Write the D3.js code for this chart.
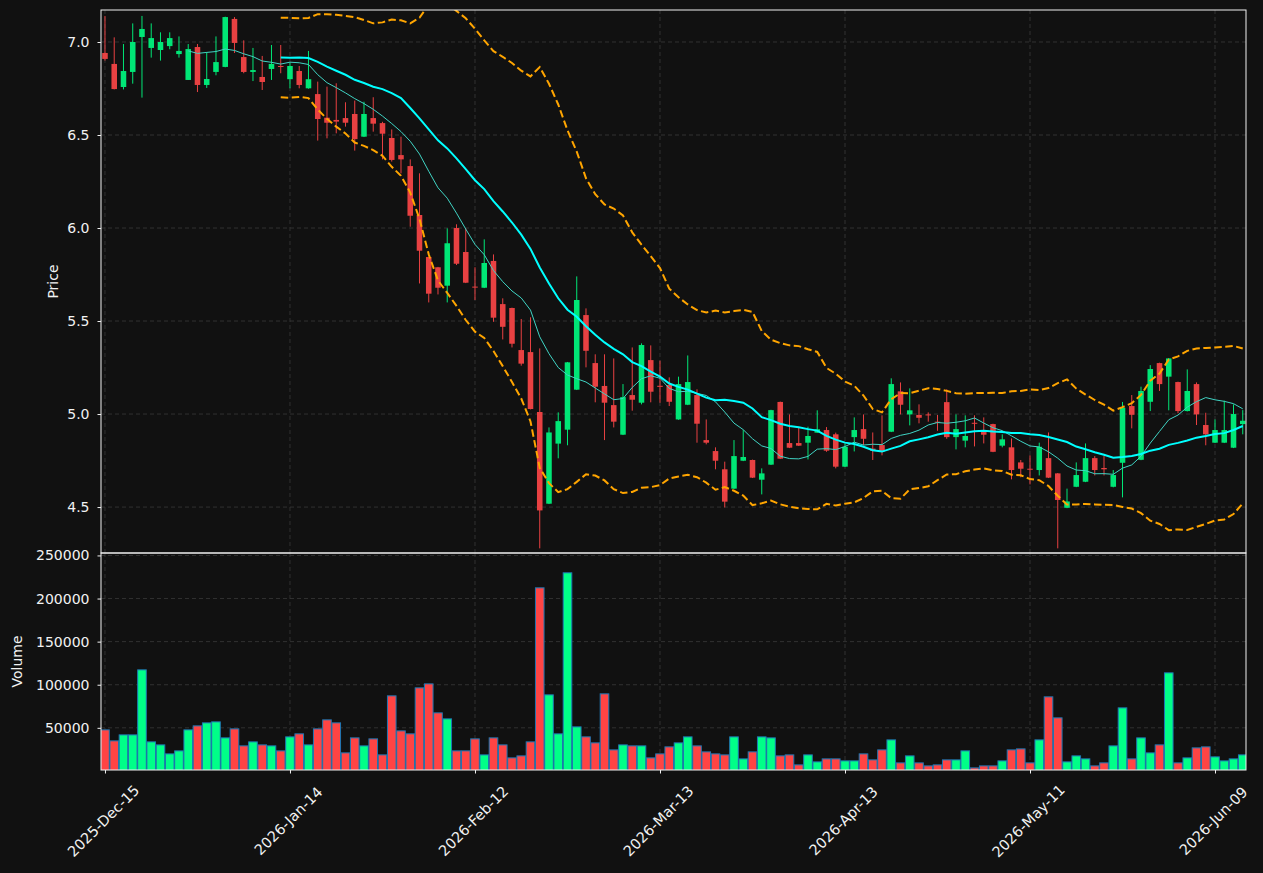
<!DOCTYPE html>
<html>
<head>
<meta charset="utf-8">
<script src="https://cdn.jsdelivr.net/npm/d3@7"></script>
<style>
  body { margin: 0; background: #111111; }
  text { font-family: "DejaVu Sans", sans-serif; }
</style>
</head>
<body>
<div id="chart"></div>
<script>
// tick labels on the date axis (every 20 sessions)
const tickIdx = [0, 20, 40, 60, 80, 100, 120];
const tickLabels = ["2025-Dec-15", "2026-Jan-14", "2026-Feb-12", "2026-Mar-13", "2026-Apr-13", "2026-May-11", "2026-Jun-09"];

// OHLC, one value per session
const opens = [
  6.941, 6.882, 6.758, 6.839, 7.027, 6.968, 6.957, 6.978, 6.935, 6.796,
  6.973, 6.769, 6.839, 6.866, 7.124, 6.919, 6.839, 6.812, 6.855, 6.871,
  6.800, 6.844, 6.751, 6.720, 6.593, 6.581, 6.591, 6.613, 6.491, 6.591,
  6.564, 6.484, 6.392, 6.333, 6.070, 5.844, 5.789, 5.690, 6.000, 5.871,
  5.685, 5.679, 5.823, 5.591, 5.570, 5.344, 5.333, 5.011, 4.518, 4.841,
  4.916, 5.131, 5.532, 5.274, 5.151, 5.048, 4.889, 5.102, 5.061, 5.290,
  5.152, 5.156, 4.971, 5.050, 5.102, 4.860, 4.801, 4.703, 4.599, 4.749,
  4.753, 4.647, 4.728, 5.065, 4.844, 4.844, 4.846, 4.900, 4.914, 4.891,
  4.717, 4.876, 4.919, 4.814, 4.833, 4.905, 5.122, 4.998, 4.995, 4.998,
  4.959, 5.064, 4.876, 4.857, 4.953, 4.903, 4.946, 4.830, 4.821, 4.740,
  4.706, 4.699, 4.763, 4.681, 4.496, 4.609, 4.636, 4.763, 4.710, 4.609,
  4.738, 5.043, 4.754, 5.066, 5.274, 5.201, 5.172, 5.016, 5.161, 4.941,
  4.846, 4.846, 4.819, 4.946
];
const highs = [
  7.140, 7.025, 6.989, 7.100, 7.140, 7.100, 7.052, 7.052, 7.030, 6.989,
  6.989, 6.946, 7.030, 7.136, 7.134, 7.009, 6.968, 6.925, 6.984, 6.984,
  6.889, 6.871, 6.952, 6.787, 6.760, 6.778, 6.676, 6.685, 6.679, 6.703,
  6.571, 6.530, 6.491, 6.369, 6.294, 5.846, 5.791, 5.998, 6.020, 5.998,
  5.789, 5.939, 5.858, 5.622, 5.572, 5.511, 5.520, 5.353, 4.928, 5.009,
  5.280, 5.740, 5.568, 5.321, 5.321, 5.299, 5.161, 5.358, 5.380, 5.369,
  5.287, 5.197, 5.201, 5.315, 5.133, 4.971, 4.821, 4.744, 4.860, 4.914,
  4.755, 4.708, 5.023, 5.067, 4.998, 4.927, 4.932, 5.020, 4.930, 4.900,
  4.842, 4.982, 4.998, 4.901, 4.993, 5.192, 5.170, 5.138, 5.052, 5.009,
  4.995, 5.133, 4.998, 4.993, 4.993, 4.982, 4.948, 4.891, 4.869, 4.753,
  4.778, 4.846, 4.901, 4.683, 4.599, 4.740, 4.842, 4.774, 4.774, 4.699,
  5.065, 5.102, 5.147, 5.263, 5.276, 5.301, 5.174, 5.240, 5.170, 5.007,
  4.971, 5.072, 5.052, 5.021
];
const lows = [
  6.900, 6.745, 6.745, 6.776, 6.701, 6.916, 6.900, 6.961, 6.916, 6.796,
  6.731, 6.753, 6.821, 6.864, 6.941, 6.832, 6.790, 6.742, 6.796, 6.832,
  6.751, 6.751, 6.749, 6.470, 6.482, 6.509, 6.545, 6.416, 6.489, 6.518,
  6.369, 6.357, 6.294, 6.007, 5.702, 5.600, 5.643, 5.600, 5.801, 5.704,
  5.613, 5.677, 5.496, 5.401, 5.358, 5.260, 5.025, 4.278, 4.516, 4.762,
  4.832, 5.129, 5.251, 5.063, 4.860, 4.928, 4.887, 5.018, 5.052, 5.063,
  5.061, 5.043, 4.969, 5.048, 4.846, 4.837, 4.703, 4.498, 4.597, 4.747,
  4.656, 4.568, 4.726, 4.758, 4.817, 4.828, 4.756, 4.898, 4.797, 4.708,
  4.715, 4.799, 4.833, 4.753, 4.778, 4.903, 4.998, 4.939, 4.950, 4.959,
  4.910, 4.867, 4.810, 4.821, 4.826, 4.842, 4.795, 4.821, 4.649, 4.660,
  4.622, 4.670, 4.656, 4.278, 4.494, 4.607, 4.634, 4.670, 4.670, 4.606,
  4.552, 4.923, 4.752, 5.016, 5.124, 5.020, 5.004, 5.014, 4.941, 4.832,
  4.844, 4.844, 4.817, 4.891
];
const closes = [
  6.909, 6.747, 6.844, 7.000, 7.070, 7.021, 7.000, 7.021, 6.952, 6.962,
  6.769, 6.801, 6.892, 7.134, 6.995, 6.839, 6.849, 6.785, 6.882, 6.867,
  6.871, 6.769, 6.800, 6.586, 6.566, 6.572, 6.566, 6.478, 6.613, 6.561,
  6.507, 6.366, 6.369, 6.066, 5.878, 5.647, 5.679, 5.918, 5.808, 5.706,
  5.681, 5.812, 5.518, 5.469, 5.378, 5.271, 5.027, 4.482, 4.901, 4.962,
  5.278, 5.613, 5.340, 5.147, 5.061, 4.959, 5.091, 5.077, 5.371, 5.120,
  5.146, 5.066, 5.161, 5.172, 4.948, 4.846, 4.749, 4.529, 4.774, 4.769,
  4.658, 4.681, 5.021, 4.760, 4.819, 4.830, 4.882, 4.918, 4.803, 4.717,
  4.824, 4.914, 4.867, 4.803, 4.799, 5.161, 5.050, 5.020, 4.980, 4.995,
  4.955, 4.876, 4.919, 4.882, 4.950, 4.889, 4.797, 4.864, 4.699, 4.706,
  4.702, 4.824, 4.658, 4.538, 4.530, 4.672, 4.763, 4.699, 4.703, 4.672,
  5.034, 4.996, 5.124, 5.242, 5.161, 5.299, 5.016, 5.124, 4.998, 4.891,
  4.914, 4.914, 5.000, 4.964
];
const volumes = [
  47620, 34850, 41800, 41800, 117260, 33700, 30200, 19760, 23250, 47620,
  52260, 55750, 56900, 38340, 48780, 29050, 33700, 30200, 29050, 23250,
  39500, 43000, 30200, 48780, 59230, 55750, 20920, 38340, 29050, 37170,
  18600, 87090, 46460, 43000, 96370, 101000, 67350, 60390, 23250, 23250,
  37170, 18600, 38340, 30200, 15120, 17440, 33700, 212440, 88250, 43000,
  229850, 51100, 39500, 32530, 89410, 24400, 30200, 29050, 29050, 15120,
  19760, 27890, 32530, 39500, 29050, 22090, 19760, 18600, 39500, 13960,
  22090, 39500, 38340, 17440, 18600, 7000, 18600, 10480, 13960, 13960,
  11640, 11640, 19760, 12800, 24400, 36010, 9320, 17440, 9320, 5840,
  7000, 12800, 12800, 23250, 3520, 5840, 5840, 11640, 24400, 25570,
  9320, 36010, 85930, 61560, 10480, 17440, 13960, 5840, 9320, 29050,
  73160, 13960, 38340, 20920, 30200, 113780, 9320, 15120, 26730, 27890,
  16280, 11640, 13960, 18600
];

// Dimensions:
const width = 1263, height = 873;
const left = 101, right = 1246;
const priceTop = 10, priceBottom = 553;
const volTop = 553, volBottom = 770;
const fg = "#f2f2f2";
const upCol = "#00e676", downCol = "#e84142";
const upVol = "#00ff88", downVol = "#ff4444";

const n = closes.length;
const idx = d3.range(n);

// rolling mean / std over the closes
function rolling(arr, w, fn) {
  return arr.map((_, i) => i < w - 1 ? null : fn(arr.slice(i - w + 1, i + 1)));
}
const ma10 = rolling(closes, 10, d3.mean);
const ma20 = rolling(closes, 20, d3.mean);
const sd20 = rolling(closes, 20, d3.deviation);
const bbUp = ma20.map((m, i) => m == null ? null : m + 2 * sd20[i]);
const bbLo = ma20.map((m, i) => m == null ? null : m - 2 * sd20[i]);

const svg = d3.select("#chart")
  .append("svg")
  .attr("width", width)
  .attr("height", height)
  .style("background", "#111111");

// Scales:
const x = d3.scaleLinear().domain([-0.43, 123.35]).range([left, right]);
const step = x(1) - x(0);
const yPrice = d3.scaleLinear().domain([4.253, 7.172]).range([priceBottom, priceTop]);
const yVol = d3.scaleLinear()
  .domain([0.3 * d3.min(volumes), 1.1 * d3.max(volumes)])
  .range([volBottom, volTop]);

const priceTicks = [4.5, 5.0, 5.5, 6.0, 6.5, 7.0];
const volTicks = [50000, 100000, 150000, 200000, 250000];

svg.append("clipPath").attr("id", "clipPrice")
  .append("rect").attr("x", left).attr("y", priceTop)
  .attr("width", right - left).attr("height", priceBottom - priceTop);
svg.append("clipPath").attr("id", "clipVol")
  .append("rect").attr("x", left).attr("y", volTop)
  .attr("width", right - left).attr("height", volBottom - volTop);

// grid
const grid = svg.append("g")
  .attr("stroke", "#3a3a3a")
  .attr("stroke-width", 0.8)
  .attr("stroke-dasharray", "4,3");
grid.selectAll(null).data(priceTicks).enter().append("line")
  .attr("x1", left).attr("x2", right)
  .attr("y1", d => yPrice(d)).attr("y2", d => yPrice(d));
grid.selectAll(null).data(volTicks).enter().append("line")
  .attr("x1", left).attr("x2", right)
  .attr("y1", d => yVol(d)).attr("y2", d => yVol(d));
grid.selectAll(null).data(tickIdx).enter().append("line")
  .attr("x1", d => x(d)).attr("x2", d => x(d))
  .attr("y1", priceTop).attr("y2", priceBottom);
grid.selectAll(null).data(tickIdx).enter().append("line")
  .attr("x1", d => x(d)).attr("x2", d => x(d))
  .attr("y1", volTop).attr("y2", volBottom);

// candles
const candles = svg.append("g").attr("clip-path", "url(#clipPrice)");
const cw = step * 0.6;
candles.selectAll(null).data(idx).enter().append("line")
  .attr("x1", i => x(i)).attr("x2", i => x(i))
  .attr("y1", i => yPrice(highs[i])).attr("y2", i => yPrice(lows[i]))
  .attr("stroke", i => closes[i] >= opens[i] ? upCol : downCol)
  .attr("stroke-width", 1);
candles.selectAll(null).data(idx).enter().append("rect")
  .attr("x", i => x(i) - cw / 2)
  .attr("width", cw)
  .attr("y", i => yPrice(Math.max(opens[i], closes[i])))
  .attr("height", i => Math.max(1, Math.abs(yPrice(opens[i]) - yPrice(closes[i]))))
  .attr("fill", i => closes[i] >= opens[i] ? upCol : downCol);

// moving averages and bands
const line = d3.line()
  .defined(d => d[1] != null)
  .x(d => x(d[0]))
  .y(d => yPrice(d[1]));
const lines = svg.append("g").attr("clip-path", "url(#clipPrice)").attr("fill", "none");
lines.append("path").attr("d", line(ma10.map((v, i) => [i, v])))
  .attr("stroke", "#40d4c4").attr("stroke-width", 1);
lines.append("path").attr("d", line(ma20.map((v, i) => [i, v])))
  .attr("stroke", "#00ffff").attr("stroke-width", 2);
[bbUp, bbLo].forEach(b => {
  lines.append("path").attr("d", line(b.map((v, i) => [i, v])))
    .attr("stroke", "#ffa500").attr("stroke-width", 2)
    .attr("stroke-dasharray", "7.5,3.5");
});

// volume bars
const vw = step * 0.93;
svg.append("g").attr("clip-path", "url(#clipVol)")
  .selectAll(null).data(idx).enter().append("rect")
  .attr("x", i => x(i) - vw / 2)
  .attr("width", vw)
  .attr("y", i => yVol(volumes[i]))
  .attr("height", i => volBottom - yVol(volumes[i]) + 2)
  .attr("fill", i => closes[i] >= opens[i] ? upVol : downVol)
  .attr("stroke", "#1f77b4")
  .attr("stroke-width", 1);

// axes
function styleAxis(g) {
  g.select(".domain").remove();
  g.selectAll("line").attr("stroke", fg);
  g.selectAll("text").attr("fill", fg).style("font-size", "14px")
    .style("font-family", "DejaVu Sans, sans-serif");
}
svg.append("g")
  .attr("transform", "translate(" + left + ",0)")
  .call(d3.axisLeft(yPrice).tickValues(priceTicks).tickFormat(d3.format(".1f")).tickSize(3.5).tickPadding(8))
  .call(styleAxis);
svg.append("g")
  .attr("transform", "translate(" + left + ",0)")
  .call(d3.axisLeft(yVol).tickValues(volTicks).tickFormat(d3.format("d")).tickSize(3.5).tickPadding(8))
  .call(styleAxis);
const xAxis = svg.append("g")
  .attr("transform", "translate(0," + volBottom + ")")
  .call(d3.axisBottom(x).tickValues(tickIdx).tickFormat((d, i) => tickLabels[i]).tickSize(3.5))
  .call(styleAxis);
xAxis.selectAll("text")
  .style("font-size", "14.5px")
  .attr("y", null).attr("dy", null)
  .attr("text-anchor", "middle")
  .attr("dominant-baseline", "central")
  .attr("transform", "translate(-2,51) rotate(-45)");

// spines
[[priceTop, priceBottom], [volTop, volBottom]].forEach(p => {
  svg.append("rect")
    .attr("x", left).attr("y", p[0])
    .attr("width", right - left).attr("height", p[1] - p[0])
    .attr("fill", "none").attr("stroke", fg).attr("stroke-width", 1);
});

// axis titles
svg.append("text")
  .attr("transform", "translate(58," + (priceTop + priceBottom) / 2 + ") rotate(-90)")
  .attr("text-anchor", "middle").attr("fill", fg).style("font-size", "14px")
  .text("Price");
svg.append("text")
  .attr("transform", "translate(22," + (volTop + volBottom) / 2 + ") rotate(-90)")
  .attr("text-anchor", "middle").attr("fill", fg).style("font-size", "14px")
  .text("Volume");
</script>
</body>
</html>
